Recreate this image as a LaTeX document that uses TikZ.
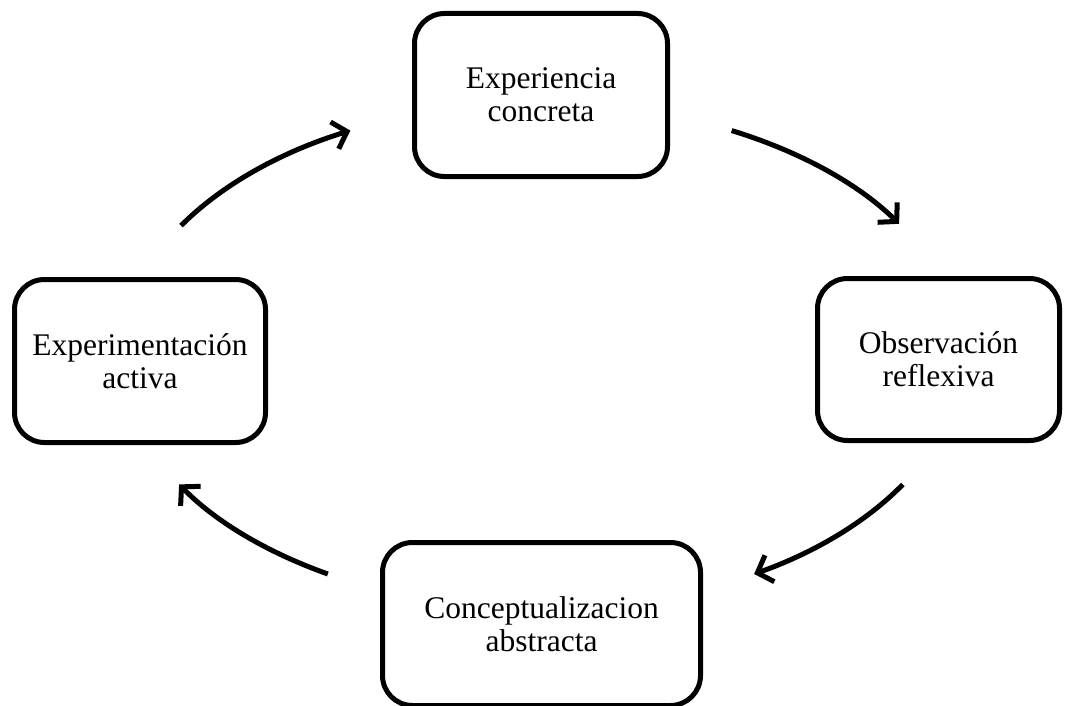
\documentclass[tikz,border=0pt]{standalone}
\usepackage{fontspec}
\setmainfont{Liberation Serif}
\usetikzlibrary{arrows.meta,calc}
\begin{document}
\begin{tikzpicture}[x=1pt,y=1pt,
  stage/.style={draw, line width=5pt, rounded corners=30pt, align=center,
    inner sep=0pt, font=\fontsize{31.5}{33}\selectfont},
  flow/.style={line width=5pt, -{Straight Barb[length=13pt,width=28pt,line width=5pt]}}]
\useasboundingbox (0,0) rectangle (1065,-706);
\fill[white] (0,0) rectangle (1065,-706);
% the four stages of the cycle
\node[stage, minimum width=253pt, minimum height=163pt] (exp) at (541,-95) {Experiencia\\concreta};
\node[stage, minimum width=242pt, minimum height=162pt] (obs) at (938.5,-359.5) {Observación\\reflexiva};
\node[stage, minimum width=318pt, minimum height=163pt] (con) at (541.5,-624) {Conceptualizacion\\abstracta};
\node[stage, minimum width=251pt, minimum height=163pt] (act) at (140,-361) {Experimentación\\activa};
% arcs of one ellipse round the centre
\coordinate (c) at (541,-356);
\coordinate (a1) at ($(c)+(63:420 and 253)$);
\coordinate (a2) at ($(c)+(-30.5:420 and 253)$);
\coordinate (a3) at ($(c)+(-120.5:420 and 253)$);
\coordinate (a4) at ($(c)+(149:420 and 253)$);
\draw[flow] (a1) arc[start angle=63, end angle=31.5, x radius=420, y radius=253];
\draw[flow] (a2) arc[start angle=-30.5, end angle=-59.5, x radius=420, y radius=253];
\draw[flow] (a3) arc[start angle=-120.5, end angle=-149.5, x radius=420, y radius=253];
\draw[flow] (a4) arc[start angle=149, end angle=117, x radius=420, y radius=253];
\end{tikzpicture}
\end{document}
